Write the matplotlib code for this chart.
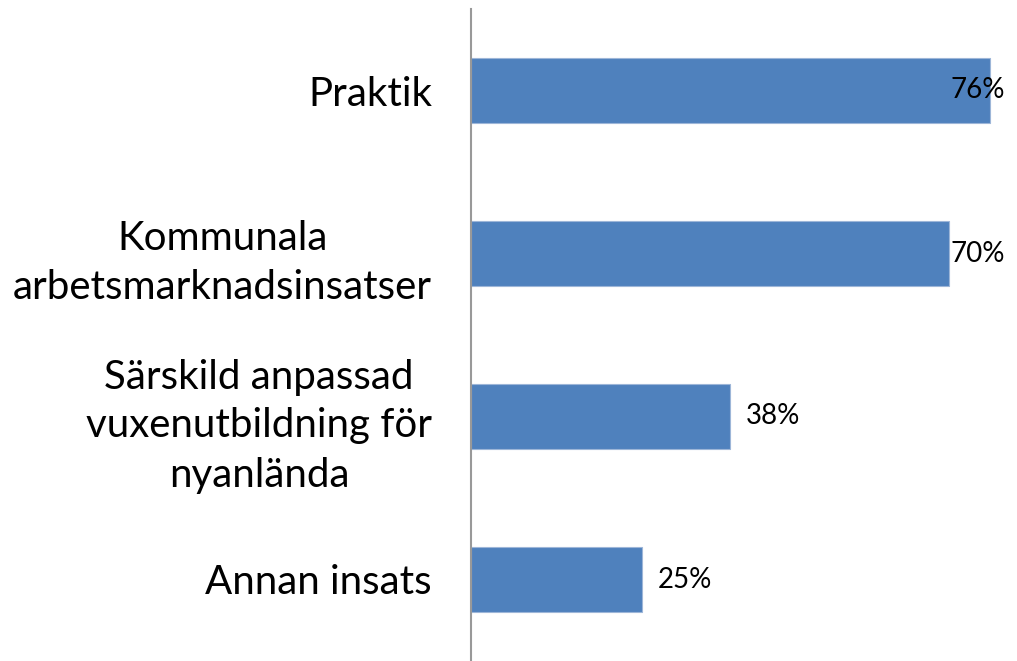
import matplotlib.pyplot as plt

categories = ["Praktik", "Kommunala\narbetsmarknadsinsatser",
              "Särskild anpassad\nvuxenutbildning för\nnyanlända", "Annan insats"]
values = [0.76, 0.70, 0.38, 0.25]
value_labels = ["76%", "70%", "38%", "25%"]

plt.rcParams['font.family'] = ['Lato', 'DejaVu Sans']

fig = plt.figure(figsize=(10.17, 6.61), dpi=100)
ax = fig.add_axes([471 / 1017, 0, 546 / 1017, 652 / 661])

y = range(len(categories))
ax.barh(y, values, height=0.4, color='#4F81BD', edgecolor='#9DB6D8', linewidth=0.8)
ax.set_xlim(0, 0.8)
ax.set_ylim(len(categories) - 0.5, -0.5)

for i, v in enumerate(values):
    # keep the label inside the figure, like Excel does
    x = min(v + 0.023, 0.702)
    ax.text(x, i, value_labels[i], va='center', ha='left', fontsize=20, color='black')

ax.set_yticks(list(y))
ax.set_yticklabels(categories, fontsize=29, linespacing=1.4,
                   ha='right', multialignment='center')
ax.tick_params(axis='y', length=0, pad=28)
ax.set_xticks([])
for s in ['top', 'right', 'bottom']:
    ax.spines[s].set_visible(False)
ax.spines['left'].set_color('#999999')
ax.spines['left'].set_linewidth(1.5)

fig.savefig('out.png', dpi=100)
